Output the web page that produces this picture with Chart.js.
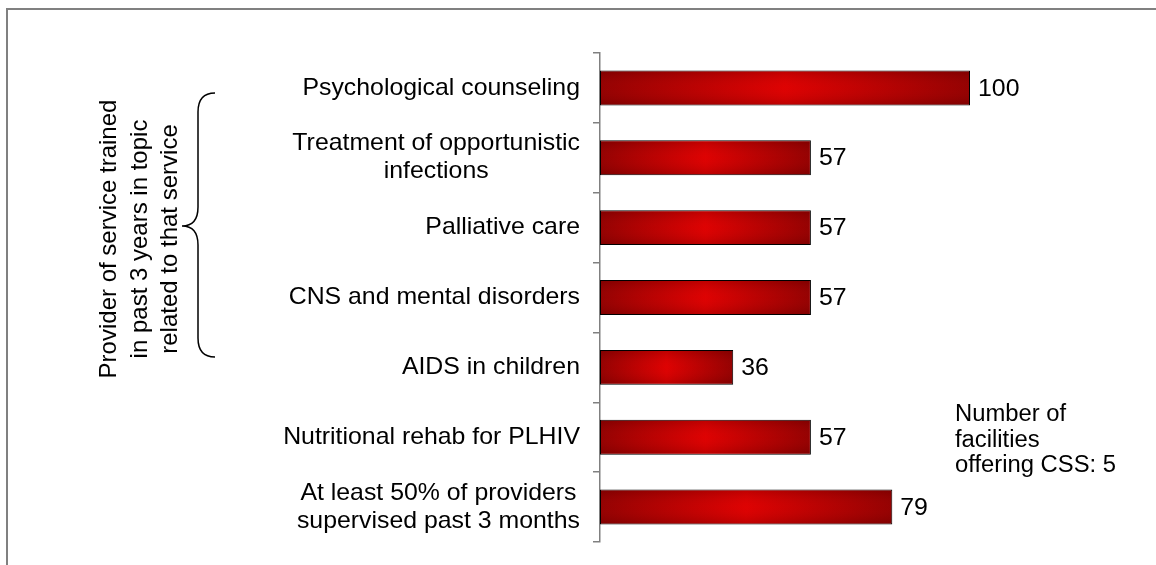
<!DOCTYPE html>
<html>
<head>
<meta charset="utf-8">
<script src="https://cdn.jsdelivr.net/npm/chart.js@4"></script>
<style>
  html, body { margin: 0; padding: 0; background: #fff; }
  #wrap { width: 1156px; height: 565px; position: relative; }
</style>
</head>
<body>
<div id="wrap"><canvas id="barChart"></canvas></div>
<script>
// categories (multi-line labels) and the percent values
const categories = [
    ['Psychological counseling'],
    ['Treatment of opportunistic', 'infections'],
    ['Palliative care'],
    ['CNS and mental disorders'],
    ['AIDS in children'],
    ['Nutritional rehab for PLHIV'],
    ['At least 50% of providers', 'supervised past 3 months']
];
const values = [100, 57, 57, 57, 36, 57, 79];
const braceText = ['Provider of service trained', 'in past 3 years in topic', 'related to that service'];
const noteText = ['Number of', 'facilities', 'offering CSS: 5'];

const FONT = '"Liberation Sans", Arial, sans-serif';
const STRETCH = 1.035; // text in the picture is a bit wider than the font

// horizontal dark-bright-dark fill for each bar
function barFill(context) {
    const chart = context.chart;
    const x = chart.scales.x;
    if (!x || context.dataIndex === undefined) return '#c00000';
    const x0 = x.getPixelForValue(0);
    const x1 = x.getPixelForValue(values[context.dataIndex]);
    if (!isFinite(x0) || !isFinite(x1) || x0 === x1) return '#c00000';
    const g = chart.ctx.createLinearGradient(x0, 0, x1, 0);
    g.addColorStop(0, '#8e0000');
    g.addColorStop(0.5, '#dc0000');
    g.addColorStop(1, '#8e0000');
    return g;
}

function wideText(ctx, t, x, y) {
    ctx.save();
    ctx.translate(x, y);
    ctx.scale(STRETCH, 1);
    ctx.fillText(t, 0, 0);
    ctx.restore();
}

// frame, labels, value numbers, brace, note
const extras = {
    id: 'extras',
    beforeDraw(chart) {
        const ctx = chart.ctx;
        ctx.save();
        ctx.strokeStyle = '#808080';
        ctx.lineWidth = 2;
        ctx.strokeRect(7, 9, 1170, 580);
        ctx.restore();
    },
    afterDatasetsDraw(chart) {
        const ctx = chart.ctx;
        const meta = chart.getDatasetMeta(0);
        const y = chart.scales.y;
        ctx.save();
        // soft vertical shading on top of the bars
        meta.data.forEach(function(bar) {
            const h = bar.height;
            const top = bar.y - h / 2;
            const g = ctx.createLinearGradient(0, top, 0, top + h);
            g.addColorStop(0, 'rgba(60,0,0,0.2)');
            g.addColorStop(0.5, 'rgba(255,40,40,0.06)');
            g.addColorStop(1, 'rgba(60,0,0,0.2)');
            ctx.fillStyle = g;
            ctx.fillRect(bar.base + 1, top + 1, bar.x - bar.base - 2, h - 2);
        });

        ctx.fillStyle = '#000';
        ctx.font = '24px ' + FONT;
        ctx.textBaseline = 'middle';
        // category labels, centred block ending at x=580
        categories.forEach(function(lines, i) {
            const cy = y.getPixelForValue(i);
            let w = 0;
            lines.forEach(function(l) { w = Math.max(w, ctx.measureText(l).width * STRETCH); });
            const cx = 580 - w / 2;
            ctx.textAlign = 'center';
            lines.forEach(function(l, k) {
                wideText(ctx, l, cx, cy + (k - (lines.length - 1) / 2) * 28);
            });
        });
        // value labels
        ctx.textAlign = 'left';
        meta.data.forEach(function(bar, i) {
            wideText(ctx, String(values[i]), bar.x + 8, bar.y + 1);
        });

        // brace
        ctx.strokeStyle = '#000';
        ctx.lineWidth = 1.5;
        ctx.beginPath();
        ctx.moveTo(215, 93);
        ctx.quadraticCurveTo(198, 93, 198, 112);
        ctx.lineTo(198, 207);
        ctx.quadraticCurveTo(198, 226, 182, 226);
        ctx.quadraticCurveTo(198, 226, 198, 245);
        ctx.lineTo(198, 338);
        ctx.quadraticCurveTo(198, 357, 215, 357);
        ctx.stroke();

        // rotated text
        ctx.save();
        ctx.translate(140, 239);
        ctx.rotate(-Math.PI / 2);
        ctx.textAlign = 'center';
        braceText.forEach(function(l, k) {
            ctx.fillText(l, 0, (k - 1) * 30.5);
        });
        ctx.restore();

        // note
        ctx.font = '23px ' + FONT;
        ctx.textAlign = 'left';
        ctx.textBaseline = 'alphabetic';
        noteText.forEach(function(l, k) {
            wideText(ctx, l, 955, 421 + k * 25.5);
        });
        ctx.restore();
    }
};

const ctx = document.getElementById('barChart').getContext('2d');
const myBarChart = new Chart(ctx, {
    type: 'bar',
    data: {
        labels: categories,
        datasets: [{
            data: values,
            backgroundColor: barFill,
            borderColor: '#000',
            borderWidth: 1,
            borderSkipped: false,
            barPercentage: 0.5,
            categoryPercentage: 1.0
        }]
    },
    options: {
        indexAxis: 'y',
        responsive: true,
        maintainAspectRatio: false,
        animation: false,
        layout: { padding: { top: 53, bottom: 23, right: 186, left: 0 } },
        plugins: { legend: { display: false }, tooltip: { enabled: false } },
        scales: {
            x: { display: false, min: 0, max: 100 },
            y: {
                afterFit: function(scale) { scale.width = 600; },
                grid: {
                    offset: true,
                    drawOnChartArea: false,
                    drawTicks: true,
                    tickLength: 7,
                    color: '#808080',
                    lineWidth: 1.5
                },
                border: { color: '#808080', width: 1.5 },
                ticks: { callback: function() { return ''; } }
            }
        }
    },
    plugins: [extras]
});
</script>
</body>
</html>
